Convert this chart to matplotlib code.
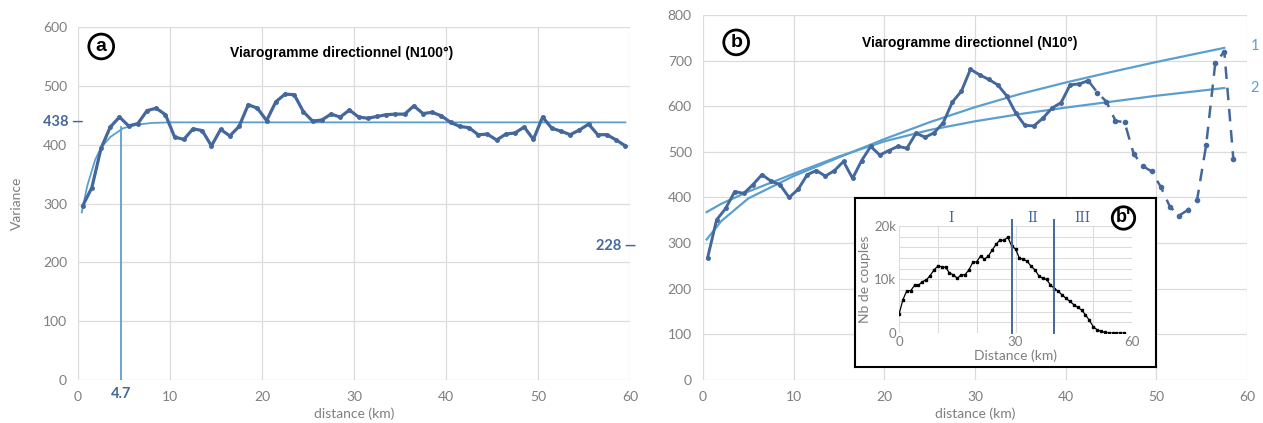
import numpy as np
import matplotlib
matplotlib.use("Agg")
import matplotlib.pyplot as plt

# --- panel a : variogram N100
a_dist = [0.5, 1.5, 2.5, 3.5, 4.5, 5.5, 6.5, 7.5, 8.5, 9.5,
          10.5, 11.5, 12.5, 13.5, 14.5, 15.5, 16.5, 17.5, 18.5, 19.5,
          20.5, 21.5, 22.5, 23.5, 24.5, 25.5, 26.5, 27.5, 28.5, 29.5,
          30.5, 31.5, 32.5, 33.5, 34.5, 35.5, 36.5, 37.5, 38.5, 39.5,
          40.5, 41.5, 42.5, 43.5, 44.5, 45.5, 46.5, 47.5, 48.5, 49.5,
          50.5, 51.5, 52.5, 53.5, 54.5, 55.5, 56.5, 57.5, 58.5, 59.5]
a_var = [296, 327, 394, 430, 447, 432, 436, 458, 462, 451,
         413, 409, 427, 424, 398, 426, 415, 431, 468, 462,
         441, 473, 486, 485, 456, 440, 442, 452, 447, 459,
         447, 445, 448, 451, 452, 452, 466, 453, 455, 449,
         438, 431, 429, 417, 418, 408, 418, 420, 430, 409,
         447, 428, 423, 417, 425, 435, 417, 417, 408, 398]
a_model_x = [0.4, 1.0, 1.85, 2.5, 3.5, 4.9, 6.4, 8.0, 10.0, 59.5]
a_model_y = [285, 330, 374, 395, 413, 428, 434, 437, 438, 438]
a_range = 4.7
a_sill = 438
a_other = 228

# --- panel b : variogram N10
b_dist = [0.5, 1.5, 2.5, 3.5, 4.5, 5.5, 6.5, 7.5, 8.5, 9.5,
          10.5, 11.5, 12.5, 13.5, 14.5, 15.5, 16.5, 17.5, 18.5, 19.5,
          20.5, 21.5, 22.5, 23.5, 24.5, 25.5, 26.5, 27.5, 28.5, 29.5,
          30.5, 31.5, 32.5, 33.5, 34.5, 35.5, 36.5, 37.5, 38.5, 39.5,
          40.5, 41.5, 42.5, 43.5, 44.5, 45.5, 46.5, 47.5, 48.5, 49.5,
          50.5, 51.5, 52.5, 53.5, 54.5, 55.5, 56.5, 57.5, 58.5]
b_var = [267, 351, 376, 413, 409, 428, 450, 436, 428, 400,
         418, 450, 459, 447, 459, 479, 442, 481, 512, 493,
         503, 512, 508, 541, 532, 542, 564, 609, 633, 681,
         669, 659, 647, 623, 585, 558, 557, 574, 596, 608,
         647, 649, 656, 630, 610, 568, 565, 496, 469, 457,
         423, 380, 360, 373, 395, 515, 694, 720, 484]
b_solid_end = 43  # number of points drawn solid, rest dashed
b_model_x = [0.4, 2, 5, 10, 15, 20, 25, 30, 35, 40, 45, 50, 57.5]
b_model1 = [308, 348, 398, 447, 488, 528, 565, 598, 627, 652, 675, 697, 728]
b_model2 = [368, 386, 413, 452, 490, 523, 548, 567, 583, 597, 610, 623, 640]

# --- inset b' : number of pairs
ins_dist = list(range(0, 59))
ins_pairs = [3.5, 6.2, 7.9, 7.9, 8.9, 8.9, 9.6, 9.9, 10.7, 11.8,
             12.5, 12.4, 12.3, 11.2, 10.9, 10.2, 10.9, 10.9, 11.8, 13.2,
             13.3, 14.4, 13.8, 14.4, 15.5, 16.6, 17.4, 17.3, 17.9, 16.3,
             15.7, 14.0, 13.8, 13.4, 12.5, 11.8, 10.7, 10.2, 10.0, 9.0,
             8.3, 7.8, 7.1, 6.5, 5.9, 5.3, 4.8, 4.3, 3.4, 2.4,
             1.2, 0.6, 0.3, 0.1, 0.0, 0.0, 0.0, 0.0, 0.0]
ins_limits = [29.2, 39.9]
ins_zones = ["I", "II", "III"]
ins_zone_x = [13.5, 34.4, 47.2]

DATA = "#44679c"
MODEL = "#5b9fcf"
GRID = "#dcdcdc"
TICK = "#7f7f7f"
TICKFONT = "Lato"
TITLEFONT = "Liberation Sans"

fig = plt.figure(figsize=(12.63, 4.23), dpi=100)
fig.patch.set_facecolor("white")


def style_axes(ax, xmax, ymax, ystep):
    ax.set_xlim(0, xmax)
    ax.set_ylim(0, ymax)
    ax.set_xticks(np.arange(0, xmax + 1, 10))
    ax.set_yticks(np.arange(0, ymax + 1, ystep))
    ax.grid(True, color=GRID, lw=0.9)
    ax.set_axisbelow(True)
    for s in ax.spines.values():
        s.set_visible(False)
    ax.tick_params(length=0, labelcolor=TICK, labelsize=10, pad=8)
    for lab in ax.get_xticklabels() + ax.get_yticklabels():
        lab.set_fontfamily(TICKFONT)
    ax.set_xlabel("distance (km)", color=TICK, fontsize=10, family=TICKFONT, labelpad=3)


def circled(ax, x, y, s, size=14):
    ax.text(x, y, s, ha="center", va="center", fontsize=size, fontweight="bold",
            family=TITLEFONT, transform=ax.transAxes, zorder=10,
            bbox=dict(boxstyle="circle,pad=0.2", fc="white", ec="black", lw=2))


# ---------- panel a
ax = fig.add_axes([0.0618, 0.1017, 0.4370, 0.8343])
style_axes(ax, 60, 600, 100)
ax.set_ylabel("Variance", color=TICK, fontsize=10, family=TICKFONT, labelpad=14)
ax.plot(a_model_x, a_model_y, color=MODEL, lw=1.3, zorder=2)
ax.plot([a_range, a_range], [0, 430], color=MODEL, lw=1.3, zorder=2)
ax.plot(a_dist, a_var, color=DATA, lw=2.3, marker="o", ms=2.5, zorder=3)
ax.text(28.6, 556, "Viarogramme directionnel (N100°)", ha="center", va="center",
        fontsize=10, fontweight="bold", family=TITLEFONT)
circled(ax, 0.042, 0.945, "a")
ax.text(0.6, a_sill, f"{a_sill} —", ha="right", va="center", color=DATA,
        fontsize=10.5, fontweight="bold", family=TICKFONT)
ax.text(60.65, a_other, f"{a_other} —", ha="right", va="center", color=DATA,
        fontsize=10.5, fontweight="bold", family=TICKFONT)
ax.text(a_range, -0.04, f"{a_range}", ha="center", va="center", color=DATA,
        fontsize=10.5, fontweight="bold", family=TICKFONT,
        transform=ax.get_xaxis_transform())

# ---------- panel b
bx = fig.add_axes([0.5566, 0.1017, 0.4307, 0.8628])
style_axes(bx, 60, 800, 100)
bx.plot(b_model_x, b_model1, color=MODEL, lw=1.6, zorder=2)
bx.plot(b_model_x, b_model2, color=MODEL, lw=1.6, zorder=2)
bx.text(60.4, b_model1[-1] + 5, "1", color=MODEL, fontsize=10.5, va="center", family=TICKFONT)
bx.text(60.4, b_model2[-1], "2", color=MODEL, fontsize=10.5, va="center", family=TICKFONT)
bx.plot(b_dist[:b_solid_end], b_var[:b_solid_end], color=DATA, lw=2.1,
        marker="o", ms=2.5, zorder=3)
bx.plot(b_dist[b_solid_end - 1:], b_var[b_solid_end - 1:], color=DATA, lw=1.8,
        ls=(0, (5, 3.5)), marker="o", ms=3, zorder=3)
bx.text(29.4, 739, "Viarogramme directionnel (N10°)", ha="center", va="center",
        fontsize=10, fontweight="bold", family=TITLEFONT)
circled(bx, 0.061, 0.925, "b")

# ---------- inset b'
frame = fig.add_axes([0.677, 0.1324, 0.2383, 0.3995], zorder=5)
frame.set_xticks([])
frame.set_yticks([])
frame.set_facecolor("white")
for s in frame.spines.values():
    s.set_color("black")
    s.set_linewidth(1.5)

ix = fig.add_axes([0.7118, 0.2128, 0.1845, 0.2529], zorder=6)
ix.set_facecolor("white")
ix.set_xlim(0, 60)
ix.set_ylim(0, 20)
ix.set_xticks(np.arange(0, 61, 10))
ix.set_xticklabels(["0", "", "", "30", "", "", "60"])
ix.set_yticks(np.arange(0, 21, 2))
ix.set_yticklabels(["0", "", "", "", "", "10k", "", "", "", "", "20k"])
ix.grid(True, color=GRID, lw=0.8)
ix.set_axisbelow(True)
for s in ix.spines.values():
    s.set_visible(False)
ix.tick_params(length=0, labelcolor=TICK, labelsize=9.5, pad=2)
for lab in ix.get_xticklabels() + ix.get_yticklabels():
    lab.set_fontfamily(TICKFONT)
ix.set_xlabel("Distance (km)", color=TICK, fontsize=10, family=TICKFONT, labelpad=1)
ix.set_ylabel("Nb de couples", color=TICK, fontsize=10, family=TICKFONT, labelpad=2)
ix.plot(ins_dist, ins_pairs, color="black", lw=0.9, marker="s", ms=1.6, zorder=3)
for xl in ins_limits:
    ix.plot([xl, xl], [0, 21.1], color=DATA, lw=1.4, clip_on=False, zorder=4)
for z, zx in zip(ins_zones, ins_zone_x):
    ix.text(zx, 21.5, z, ha="center", va="center", color=DATA, fontsize=10,
            family="DejaVu Serif")
ix.text(57.8, 21.5, "b'", ha="center", va="center", fontsize=13, fontweight="bold",
        family=TITLEFONT, zorder=10,
        bbox=dict(boxstyle="circle,pad=0.15", fc="white", ec="black", lw=2))

fig.savefig("out.png", dpi=100)
